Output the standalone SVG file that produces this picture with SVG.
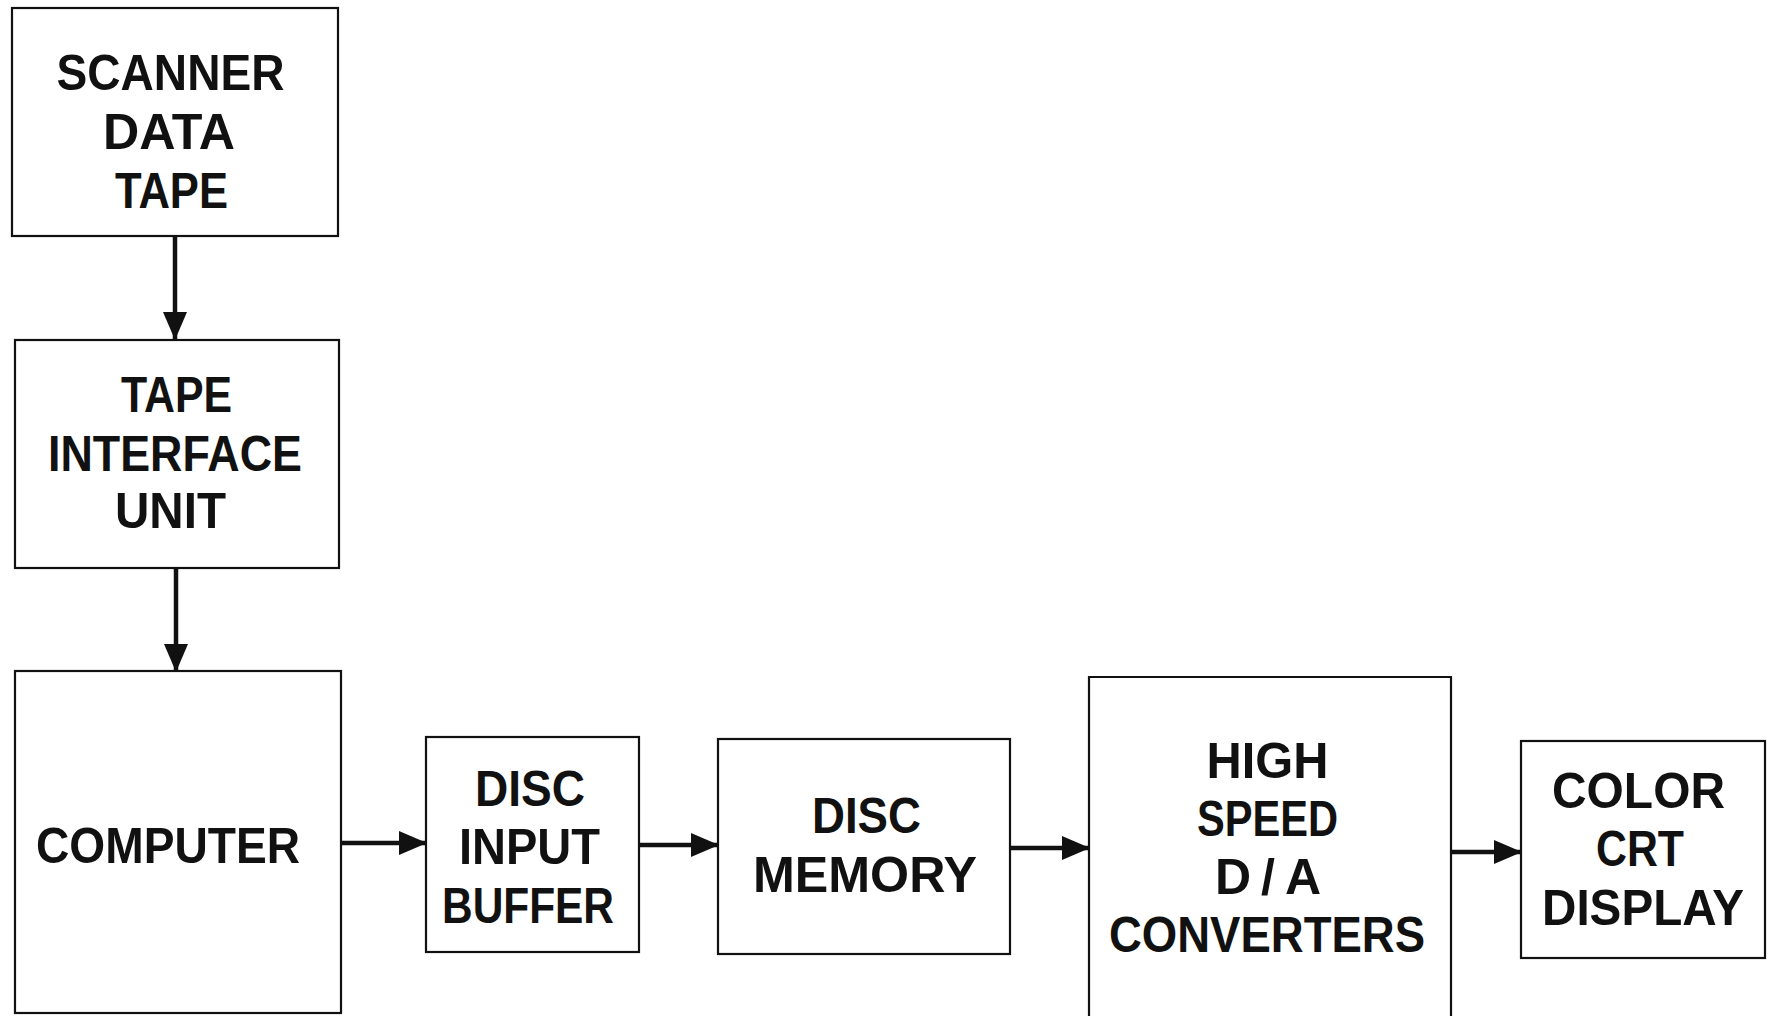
<svg xmlns="http://www.w3.org/2000/svg" width="1771" height="1016" viewBox="0 0 1771 1016">
  <style>
    .box { fill: none; stroke: #111; stroke-width: 2.2; }
    .wire { fill: none; stroke: #111; stroke-width: 4.5; }
    .lbl { font-family: "Liberation Sans", Arial, sans-serif; font-weight: bold; font-size: 50px; fill: #111; text-anchor: middle; }
  </style>
  <defs>
    <marker id="head" viewBox="0 0 28 24" refX="27" refY="12" markerWidth="28" markerHeight="24" markerUnits="userSpaceOnUse" orient="auto">
      <path d="M0,0 L28,12 L0,24 z" fill="#111"/>
    </marker>
  </defs>
  <rect width="1771" height="1016" fill="#fff"/>

  <!-- signal flow -->
  <g id="connectors">
    <line class="wire" x1="175" y1="236" x2="175" y2="339" marker-end="url(#head)"/>
    <line class="wire" x1="176" y1="568" x2="176" y2="671" marker-end="url(#head)"/>
    <line class="wire" x1="341" y1="843" x2="426" y2="843" marker-end="url(#head)"/>
    <line class="wire" x1="639" y1="845" x2="718" y2="845" marker-end="url(#head)"/>
    <line class="wire" x1="1010" y1="848" x2="1089" y2="848" marker-end="url(#head)"/>
    <line class="wire" x1="1451" y1="852" x2="1521" y2="852" marker-end="url(#head)"/>
  </g>

  <g id="scanner-data-tape">
    <rect class="box" x="12" y="8" width="326" height="228"/>
    <text class="lbl" x="170.5" y="90" textLength="228" lengthAdjust="spacingAndGlyphs">SCANNER</text>
    <text class="lbl" x="169" y="149" textLength="132" lengthAdjust="spacingAndGlyphs">DATA</text>
    <text class="lbl" x="171.5" y="208" textLength="113" lengthAdjust="spacingAndGlyphs">TAPE</text>
  </g>

  <g id="tape-interface-unit">
    <rect class="box" x="15" y="340" width="324" height="228"/>
    <text class="lbl" x="176.5" y="412" textLength="111" lengthAdjust="spacingAndGlyphs">TAPE</text>
    <text class="lbl" x="175" y="471" textLength="254" lengthAdjust="spacingAndGlyphs">INTERFACE</text>
    <text class="lbl" x="170.5" y="528" textLength="111" lengthAdjust="spacingAndGlyphs">UNIT</text>
  </g>

  <g id="computer">
    <rect class="box" x="15" y="671" width="326" height="342"/>
    <text class="lbl" x="168" y="863" textLength="264" lengthAdjust="spacingAndGlyphs">COMPUTER</text>
  </g>

  <g id="disc-input-buffer">
    <rect class="box" x="426" y="737" width="213" height="215"/>
    <text class="lbl" x="530" y="806" textLength="110" lengthAdjust="spacingAndGlyphs">DISC</text>
    <text class="lbl" x="529.5" y="864" textLength="141" lengthAdjust="spacingAndGlyphs">INPUT</text>
    <text class="lbl" x="528" y="923" textLength="172" lengthAdjust="spacingAndGlyphs">BUFFER</text>
  </g>

  <g id="disc-memory">
    <rect class="box" x="718" y="739" width="292" height="215"/>
    <text class="lbl" x="866.5" y="833" textLength="109" lengthAdjust="spacingAndGlyphs">DISC</text>
    <text class="lbl" x="865" y="892" textLength="224" lengthAdjust="spacingAndGlyphs">MEMORY</text>
  </g>

  <g id="high-speed-da-converters">
    <path class="box" d="M1089,1030 V677 H1451 V1030"/>
    <text class="lbl" x="1267.5" y="778" textLength="122" lengthAdjust="spacingAndGlyphs">HIGH</text>
    <text class="lbl" x="1267.5" y="836" textLength="141" lengthAdjust="spacingAndGlyphs">SPEED</text>
    <text class="lbl" x="1268" y="894" textLength="106" lengthAdjust="spacing">D/A</text>
    <text class="lbl" x="1267" y="952" textLength="316" lengthAdjust="spacingAndGlyphs">CONVERTERS</text>
  </g>

  <g id="color-crt-display">
    <rect class="box" x="1521" y="741" width="244" height="217"/>
    <text class="lbl" x="1638.5" y="808" textLength="173" lengthAdjust="spacingAndGlyphs">COLOR</text>
    <text class="lbl" x="1640" y="866" textLength="88" lengthAdjust="spacingAndGlyphs">CRT</text>
    <text class="lbl" x="1643" y="925" textLength="202" lengthAdjust="spacingAndGlyphs">DISPLAY</text>
  </g>
</svg>
